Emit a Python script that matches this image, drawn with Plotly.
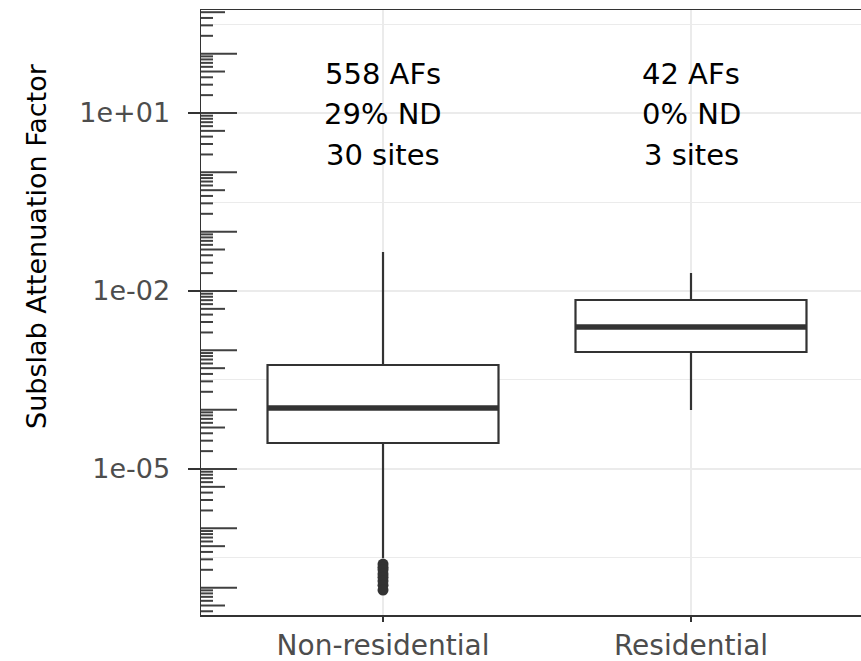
import plotly.graph_objects as go
import numpy as np

# ---- data ----
categories = ["Non-residential", "Residential"]
positions = [0, 1]
q1 = [2.74e-5, 9.37e-4]
median = [1.07e-4, 2.47e-3]
q3 = [5.66e-4, 7.05e-3]
lowerfence = [3.16e-7, 9.86e-5]
upperfence = [4.54e-2, 2.01e-2]
outliers_nonres = [2.5e-7, 2.2e-7, 2.0e-7, 1.7e-7, 1.5e-7, 1.3e-7, 1.1e-7, 9.1e-8]
label_afs = ["558 AFs", "42 AFs"]
label_nd = ["29% ND", "0% ND"]
label_sites = ["30 sites", "3 sites"]
ytick_vals = [1e-5, 1e-2, 1e1]
ytick_text = ["1e-05", "1e-02", "1e+01"]
yminor_vals = [10**-6.5, 10**-3.5, 10**-0.5, 10**2.5]

BOXW = 0.75
DARK = "#333333"
GRID = "#ebebeb"
FONT = "DejaVu Sans"

fig = go.Figure()
for i, c in enumerate(categories):
    fig.add_trace(go.Box(
        x=[positions[i]], q1=[q1[i]], median=[median[i]], q3=[q3[i]],
        lowerfence=[lowerfence[i]], upperfence=[upperfence[i]],
        width=BOXW, whiskerwidth=0, fillcolor="white",
        line=dict(color=DARK, width=2.2),
        boxpoints=False, hoverinfo="skip", showlegend=False, name=c))
    # thick median line (ggplot style)
    fig.add_trace(go.Scatter(
        x=[positions[i] - BOXW / 2, positions[i] + BOXW / 2],
        y=[median[i], median[i]], mode="lines",
        line=dict(color=DARK, width=5.5), hoverinfo="skip", showlegend=False))

fig.add_trace(go.Scatter(
    x=[positions[0]] * len(outliers_nonres), y=outliers_nonres, mode="markers",
    marker=dict(color=DARK, size=11), hoverinfo="skip", showlegend=False))

# ---- log ticks (annotation_logticks) on the left, inside the panel ----
PLOT_W = 660
yr = (-7.461, 2.736)
shapes = []
for k in range(-9, 4):
    for d in range(1, 10):
        v = d * 10.0 ** k
        lv = np.log10(v)
        if lv < yr[0] or lv > yr[1]:
            continue
        ln = 36 if d == 1 else (24 if d == 5 else 12)
        shapes.append(dict(type="line", xref="paper", yref="y",
                           x0=0, x1=ln / PLOT_W, y0=v, y1=v,
                           line=dict(color="#404040", width=2), layer="above"))

annotations = []
rows = [(label_afs, 0.894), (label_nd, 0.828), (label_sites, 0.760)]
for labels, yp in rows:
    for i, t in enumerate(labels):
        annotations.append(dict(x=positions[i], y=yp, xref="x", yref="paper",
                                text=t, showarrow=False, xanchor="center",
                                yanchor="middle",
                                font=dict(family=FONT, size=29, color="black")))
annotations.append(dict(x=(37 - 201) / PLOT_W, y=0.61, xref="paper", yref="paper",
                        text="Subslab Attenuation Factor", textangle=-90,
                        showarrow=False, xanchor="center", yanchor="middle",
                        font=dict(family=FONT, size=27, color="black")))

fig.update_layout(
    width=861, height=661,
    margin=dict(l=201, r=0, t=10, b=46, autoexpand=False),
    paper_bgcolor="white", plot_bgcolor="white",
    shapes=shapes, annotations=annotations,
    xaxis=dict(range=[-0.591, 1.552], tickmode="array", tickvals=positions,
               ticktext=categories, showgrid=True, gridcolor=GRID, gridwidth=1.6,
               zeroline=False, showline=True, linecolor=DARK, linewidth=1.5,
               mirror=True, ticks="outside", ticklen=5, tickwidth=2,
               tickcolor=DARK, automargin=False,
               tickfont=dict(family=FONT, size=28, color="#4d4d4d")),
    yaxis=dict(type="log", range=list(yr), tickmode="array",
               tickvals=ytick_vals, ticktext=ytick_text,
               showgrid=True, gridcolor=GRID, gridwidth=1.6, zeroline=False,
               showline=True, linecolor=DARK, linewidth=1.5,
               ticks="outside", ticklen=12, tickwidth=2, tickcolor=DARK,
               automargin=False, ticklabelstandoff=12,
               tickfont=dict(family=FONT, size=27, color="#4d4d4d"),
               minor=dict(tickmode="array", tickvals=yminor_vals, showgrid=True,
                          gridcolor=GRID, gridwidth=1, ticks="")),
)

fig.write_html("out.html",
               config={"displayModeBar": False, "staticPlot": True},
               post_script="document.body.style.margin='0';"
                           "document.body.style.overflow='hidden';")
